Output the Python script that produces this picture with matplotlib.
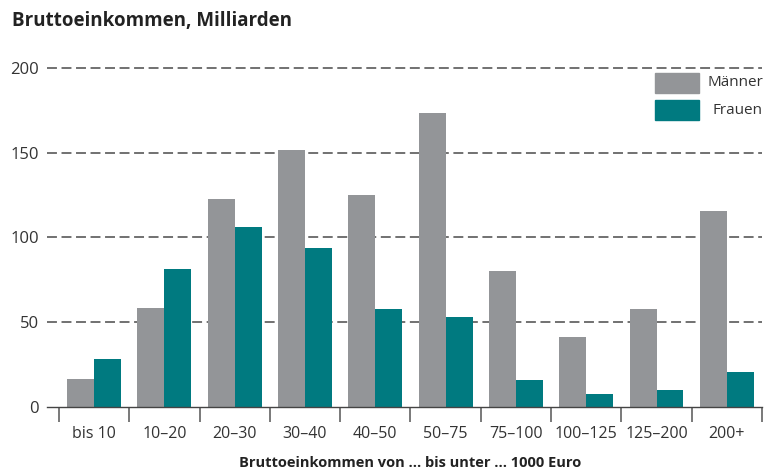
import matplotlib
matplotlib.use("Agg")
import matplotlib.pyplot as plt
import numpy as np
from matplotlib.patches import Rectangle

categories = ["bis 10", "10–20", "20–30", "30–40", "40–50", "50–75", "75–100", "100–125", "125–200", "200+"]
maenner = [16.5, 58.5, 122.5, 151.5, 125, 173.5, 80, 41.5, 58, 115.5]
frauen = [28.5, 81.5, 106, 94, 58, 53, 16, 7.5, 10, 20.5]
yticks = [0, 50, 100, 150, 200]

GRAY = "#939598"
TEAL = "#007A80"
TXT = "#333333"

plt.rcParams['font.family'] = ['Open Sans', 'DejaVu Sans']

fig = plt.figure(figsize=(7.76, 4.72), dpi=100)
W, H = 776, 472
ax = fig.add_axes([47 / W, 65 / H, (762 - 47) / W, 347.5 / H])

x = np.arange(len(categories))
bw = 0.383
ax.bar(x - bw / 2, maenner, width=bw, color=GRAY, zorder=3)
ax.bar(x + bw / 2, frauen, width=bw, color=TEAL, zorder=3)

ax.set_xlim(-0.67, 9.5)
ax.set_ylim(0, 205)

for v in yticks[1:]:
    ax.axhline(v, color="#4a4a4a", lw=1.1, linestyle=(0, (6.5, 3)), zorder=1)

for s in ["top", "right", "left"]:
    ax.spines[s].set_visible(False)
ax.spines["bottom"].set_color("#444444")
ax.spines["bottom"].set_linewidth(1.0)
ax.spines["bottom"].set_zorder(4)

ax.set_yticks(yticks)
ax.set_yticklabels([str(v) for v in yticks])
ax.tick_params(axis="y", length=0, pad=6, labelsize=12, labelcolor=TXT)

ax.set_xticks(x)
ax.set_xticklabels(categories)
ax.tick_params(axis="x", which="major", length=0, pad=14, labelsize=11.5, labelcolor=TXT)
ax.set_xticks(np.arange(-0.5, 10, 1), minor=True)
ax.tick_params(axis="x", which="minor", length=11, width=1.1, color="#555555", direction="out")

fig.text(12 / W, 1 - 21 / H, "Bruttoeinkommen, Milliarden", fontsize=13.5, fontweight="bold",
         color="#222222", ha="left", va="center")
fig.text(410 / W, 1 - 463 / H, "Bruttoeinkommen von ... bis unter ... 1000 Euro", fontsize=10.5,
         fontweight="bold", color="#222222", ha="center", va="center")

# legend
tr = fig.transFigure
for i, (lab, col) in enumerate([("Männer", GRAY), ("Frauen", TEAL)]):
    top = 73 + i * 27
    fig.patches.append(Rectangle((655 / W, 1 - (top + 20) / H), 44 / W, 20 / H,
                                 transform=tr, color=col, figure=fig))
    fig.text(763 / W, 1 - (top + 10) / H, lab, fontsize=11, color=TXT, ha="right", va="center")

fig.savefig("out.png", dpi=100)
